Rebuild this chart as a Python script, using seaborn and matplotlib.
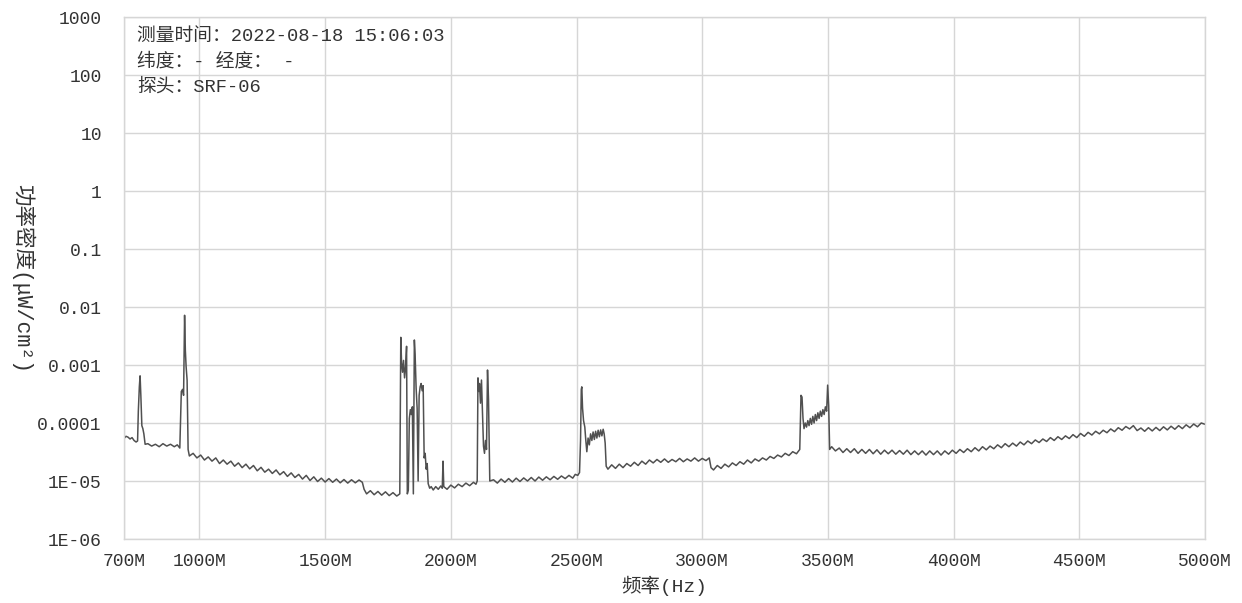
import numpy as np
import pandas as pd
import matplotlib
matplotlib.use('Agg')
import matplotlib.pyplot as plt
import seaborn as sns
from matplotlib.ticker import NullLocator

# ---- data (frequency in MHz, power density in units of 1e-5 uW/cm2) ----
freq_low = [700, 708, 716, 724, 732, 740, 748, 754, 757, 761, 764, 767, 771, 775, 779, 784,
            795, 810, 825, 840, 855, 870, 885, 900, 912, 922,
            928, 933, 937, 941, 944, 947, 951, 955, 960,
            975, 990, 1005, 1020, 1035, 1050, 1065, 1080, 1095, 1110, 1125, 1140, 1155, 1170,
            1185, 1200, 1215, 1230, 1245, 1260, 1275, 1290, 1305, 1320, 1335, 1350, 1365, 1380,
            1395, 1410, 1425, 1440, 1455, 1470, 1485, 1500, 1515, 1530, 1545, 1560, 1575, 1590,
            1605, 1620, 1635, 1648]
power_low = [5.4, 5.9, 5.7, 5.3, 5.6, 5.0, 4.7, 4.9, 16, 42, 65, 30, 9.0, 8.0, 6.5, 4.3,
             4.4, 4.0, 4.3, 3.9, 4.4, 4.0, 4.3, 3.9, 4.2, 3.7,
             35, 38, 30, 720, 180, 95, 55, 3.5, 2.7,
             3.0, 2.5, 2.8, 2.3, 2.6, 2.2, 2.5, 2.0, 2.3, 1.95, 2.2, 1.8, 2.05, 1.7,
             1.95, 1.62, 1.85, 1.5, 1.72, 1.42, 1.6, 1.35, 1.55, 1.28, 1.45, 1.2, 1.38, 1.15,
             1.3, 1.08, 1.25, 1.02, 1.18, 0.98, 1.12, 0.96, 1.1, 0.95, 1.08, 0.93, 1.06, 0.92,
             1.05, 0.93, 1.04, 0.95]

freq_mid = [1655, 1665, 1680, 1695, 1710, 1725, 1740, 1755, 1770, 1785, 1797,
            1801, 1804, 1808, 1812, 1816, 1820, 1824, 1827, 1831, 1835, 1839, 1843, 1847, 1851,
            1855, 1858, 1862, 1866, 1870, 1874, 1878, 1882, 1886, 1890, 1894, 1898, 1902, 1906,
            1910, 1916, 1922, 1930, 1940, 1950, 1960, 1966, 1969, 1972, 1985, 2000, 2015, 2030,
            2045, 2060, 2075, 2090, 2100, 2105,
            2108, 2111, 2114, 2118, 2122, 2126, 2130, 2134, 2138, 2142, 2146, 2150, 2155,
            2170, 2185, 2200, 2215, 2230, 2245, 2260, 2275, 2290, 2305, 2320, 2335, 2350, 2365,
            2380, 2395, 2410, 2425, 2440, 2455, 2470, 2485, 2495, 2505,
            2512, 2516, 2519, 2521, 2524, 2528, 2533, 2537, 2541, 2546, 2551, 2556, 2561, 2566,
            2571, 2576, 2581, 2586, 2591, 2596, 2601, 2606, 2610, 2614, 2618]
power_mid = [0.72, 0.6, 0.68, 0.58, 0.66, 0.57, 0.65, 0.56, 0.63, 0.55, 0.6,
             300, 110, 75, 120, 60, 90, 210, 0.6, 0.7, 12, 17, 14, 19, 0.6,
             270, 150, 40, 18, 1.0, 30, 42, 48, 36, 44, 2.5, 3.0, 1.6, 2.0,
             0.9, 0.75, 0.8, 0.7, 0.8, 0.72, 0.82, 0.75, 2.2, 0.8, 0.72, 0.85, 0.76, 0.88,
             0.8, 0.92, 0.83, 0.95, 0.88, 1.0,
             60, 35, 48, 22, 55, 15, 4, 3, 5, 3.5, 82, 25, 1.0,
             1.05, 0.92, 1.08, 0.95, 1.1, 0.96, 1.12, 0.98, 1.13, 1.0, 1.15, 1.0, 1.17, 1.03,
             1.18, 1.05, 1.2, 1.07, 1.22, 1.1, 1.25, 1.12, 1.3, 1.25,
             1.4, 5, 38, 42, 18, 11, 8.5, 5.0, 3.2, 5.5, 4.2, 6.5, 5.0, 7.0,
             5.2, 7.2, 5.5, 7.5, 5.8, 7.6, 6.0, 7.8, 6.5, 4.5, 1.8]

freq_high = [2625, 2640, 2655, 2670, 2685, 2700, 2715, 2730, 2745, 2760, 2775, 2790, 2805,
             2820, 2835, 2850, 2865, 2880, 2895, 2910, 2925, 2940, 2955, 2970, 2985, 3000,
             3015, 3028,
             3035, 3045, 3060, 3075, 3090, 3105, 3120, 3135, 3150, 3165, 3180, 3195, 3210,
             3225, 3240, 3255, 3270, 3285, 3300, 3315, 3330, 3345, 3360, 3375, 3388,
             3393, 3397, 3401, 3405, 3410, 3415, 3420, 3425, 3430, 3435, 3440, 3445, 3450,
             3455, 3460, 3465, 3470, 3475, 3480, 3485, 3490, 3495, 3499, 3503, 3507]
power_high = [1.6, 1.9, 1.65, 1.95, 1.7, 2.0, 1.8, 2.1, 1.85, 2.2, 1.95, 2.3, 2.05,
              2.35, 2.1, 2.4, 2.1, 2.35, 2.15, 2.45, 2.15, 2.4, 2.2, 2.5, 2.2, 2.45,
              2.25, 2.5,
              1.7, 1.55, 1.85, 1.65, 1.95, 1.75, 2.05, 1.85, 2.15, 1.95, 2.3, 2.05, 2.4,
              2.2, 2.5, 2.3, 2.65, 2.45, 2.8, 2.6, 3.0, 2.75, 3.2, 2.95, 3.5,
              30, 28, 12, 8, 10, 8.5, 11, 9, 12, 9.5, 13, 10, 14,
              11, 15, 12, 16, 13, 17, 14, 19, 16, 45, 20, 3.5]

freq_top = [3515, 3530, 3545, 3560, 3575, 3590, 3605, 3620, 3635, 3650, 3665, 3680, 3695,
            3710, 3725, 3740, 3755, 3770, 3785, 3800, 3815, 3830, 3845, 3860, 3875, 3890,
            3905, 3920, 3935, 3950, 3965, 3980, 3995, 4010, 4025, 4040, 4055, 4070, 4085,
            4100, 4115, 4130, 4145, 4160, 4175, 4190, 4205, 4220, 4235, 4250, 4265, 4280,
            4295, 4310, 4325, 4340, 4355, 4370, 4385, 4400, 4415, 4430, 4445, 4460, 4475,
            4490, 4505, 4520, 4535, 4550, 4565, 4580, 4595, 4610, 4625, 4640, 4655, 4670,
            4685, 4700, 4715, 4730, 4745, 4760, 4775, 4790, 4805, 4820, 4835, 4850, 4865,
            4880, 4895, 4910, 4925, 4940, 4955, 4970, 4985, 5000]
power_top = [3.9, 3.3, 3.7, 3.1, 3.6, 3.1, 3.6, 3.0, 3.5, 3.0, 3.5, 2.95, 3.45,
             2.9, 3.4, 2.95, 3.4, 2.9, 3.35, 2.9, 3.4, 2.85, 3.3, 2.85, 3.3, 2.8,
             3.3, 2.85, 3.3, 2.8, 3.3, 2.9, 3.4, 3.0, 3.5, 3.1, 3.6, 3.2, 3.75,
             3.3, 3.9, 3.45, 4.0, 3.6, 4.2, 3.75, 4.4, 3.9, 4.5, 4.0, 4.7, 4.2,
             4.9, 4.4, 5.1, 4.6, 5.3, 4.8, 5.6, 5.0, 5.8, 5.2, 6.0, 5.4, 6.3,
             5.6, 6.6, 5.9, 6.9, 6.2, 7.2, 6.5, 7.5, 6.8, 7.9, 7.1, 8.3, 7.5,
             8.7, 7.9, 9.0, 7.4, 8.2, 7.2, 8.3, 7.3, 8.4, 7.4, 8.6, 7.6, 8.8,
             7.8, 9.0, 8.0, 9.3, 8.3, 9.6, 8.6, 10.0, 9.5]

x_ticks = [700, 1000, 1500, 2000, 2500, 3000, 3500, 4000, 4500, 5000]
x_labels = ['700M', '1000M', '1500M', '2000M', '2500M', '3000M', '3500M', '4000M', '4500M', '5000M']
y_ticks = [1e3, 1e2, 1e1, 1, 1e-1, 1e-2, 1e-3, 1e-4, 1e-5, 1e-6]
y_labels = ['1000', '100', '10', '1', '0.1', '0.01', '0.001', '0.0001', '1E-05', '1E-06']

info_lines = ['测量时间：2022-08-18 15:06:03', '纬度：- 经度： -', '探头：SRF-06']

df = pd.DataFrame({
    'freq': freq_low + freq_mid + freq_high + freq_top,
    'power': np.array(power_low + power_mid + power_high + power_top) * 1e-5,
})

sns.set_theme(style='whitegrid')
plt.rcParams['font.family'] = ['Liberation Mono', 'Noto Sans CJK SC', 'DejaVu Sans']
plt.rcParams['axes.unicode_minus'] = False

W, H = 1242, 603
fig = plt.figure(figsize=(W / 100, H / 100), dpi=100)
ax = fig.add_axes([124 / W, 1 - 539 / H, (1205 - 124) / W, (539 - 17) / H])

sns.lineplot(data=df, x='freq', y='power', ax=ax, color='#505050', linewidth=1.1,
             estimator=None, sort=False)

ax.set_yscale('log')
ax.set_xlim(700, 5000)
ax.set_ylim(1e-6, 1000)
ax.set_xticks(x_ticks)
ax.set_xticklabels(x_labels)
ax.set_yticks(y_ticks)
ax.set_yticklabels(y_labels)
ax.yaxis.set_minor_locator(NullLocator())

grid_c = '#d6d6d6'
ax.grid(True, color=grid_c, linewidth=1.0)
for s in ax.spines.values():
    s.set_color(grid_c)
    s.set_linewidth(1.0)
ax.tick_params(axis='y', length=13, width=1.0, color=grid_c, pad=3, labelsize=13, labelcolor='#333333')
ax.tick_params(axis='x', length=0, pad=10, labelsize=13, labelcolor='#333333')

ax.set_xlabel('频率(Hz)', fontsize=14, color='#333333', labelpad=4)
ax.set_ylabel('功率密度(μW/cm²)', fontsize=15.5, color='#333333', rotation=270,
              va='center', ha='center')
ax.yaxis.set_label_coords(-0.094, 0.5)

for i, line in enumerate(info_lines):
    ax.text(0.012, 0.962 - i * 0.048, line, transform=ax.transAxes, fontsize=13.5,
            color='#333333', va='center', ha='left')

fig.savefig('out.png', dpi=100, facecolor='white')
